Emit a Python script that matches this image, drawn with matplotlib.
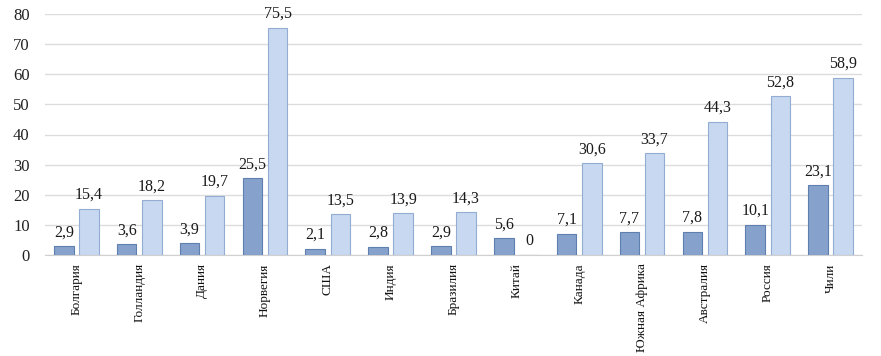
import numpy as np
import matplotlib
matplotlib.use("Agg")
import matplotlib.pyplot as plt

countries = ["Болгария", "Голландия", "Дания", "Норвегия", "США", "Индия",
             "Бразилия", "Китай", "Канада", "Южная Африка", "Австралия",
             "Россия", "Чили"]
series_a = [2.9, 3.6, 3.9, 25.5, 2.1, 2.8, 2.9, 5.6, 7.1, 7.7, 7.8, 10.1, 23.1]
series_b = [15.4, 18.2, 19.7, 75.5, 13.5, 13.9, 14.3, 0, 30.6, 33.7, 44.3, 52.8, 58.9]
yticks = [0, 10, 20, 30, 40, 50, 60, 70, 80]

plt.rcParams["font.family"] = ["Liberation Serif", "DejaVu Serif"]

fig = plt.figure(figsize=(8.81, 3.56), dpi=100, facecolor="white")
ax = fig.add_axes([45 / 881, 1 - 255 / 356, 817 / 881, 241 / 356])

x = np.arange(len(countries))
w = 0.31
off = 0.2
bars_a = ax.bar(x - off, series_a, w, color="#86a2cc", edgecolor="#5f7fae",
                linewidth=0.8, zorder=3)
bars_b = ax.bar(x + off, series_b, w, color="#c7d8f0", edgecolor="#93acd2",
                linewidth=0.8, zorder=3)

def fmt(v):
    s = f"{v:.1f}".replace(".", ",")
    return "0" if v == 0 else s

for bars, vals in ((bars_a, series_a), (bars_b, series_b)):
    for b, v in zip(bars, vals):
        ax.annotate(fmt(v), xy=(b.get_x() + b.get_width() / 2, v),
                    xytext=(0, 4), textcoords="offset points",
                    ha="center", va="bottom", fontsize=11.5, color="#1a1a1a")

ax.set_xlim(-0.5, len(countries) - 0.5)
ax.set_ylim(0, 80)
ax.set_yticks(yticks)
ax.yaxis.grid(True, color="#dcdcdc", linewidth=1.0, zorder=0)
ax.set_axisbelow(True)
for s in ["top", "right", "left"]:
    ax.spines[s].set_visible(False)
ax.spines["bottom"].set_color("#d0d0d0")
ax.tick_params(axis="y", length=0, labelsize=12, pad=11, labelcolor="#222222")
ax.tick_params(axis="x", length=0, pad=6)
ax.set_xticks(x)
ax.set_xticklabels(countries, rotation=90, fontsize=9.5, va="top", ha="center",
                   color="#111111")

fig.savefig("out.png", dpi=100, facecolor="white")
